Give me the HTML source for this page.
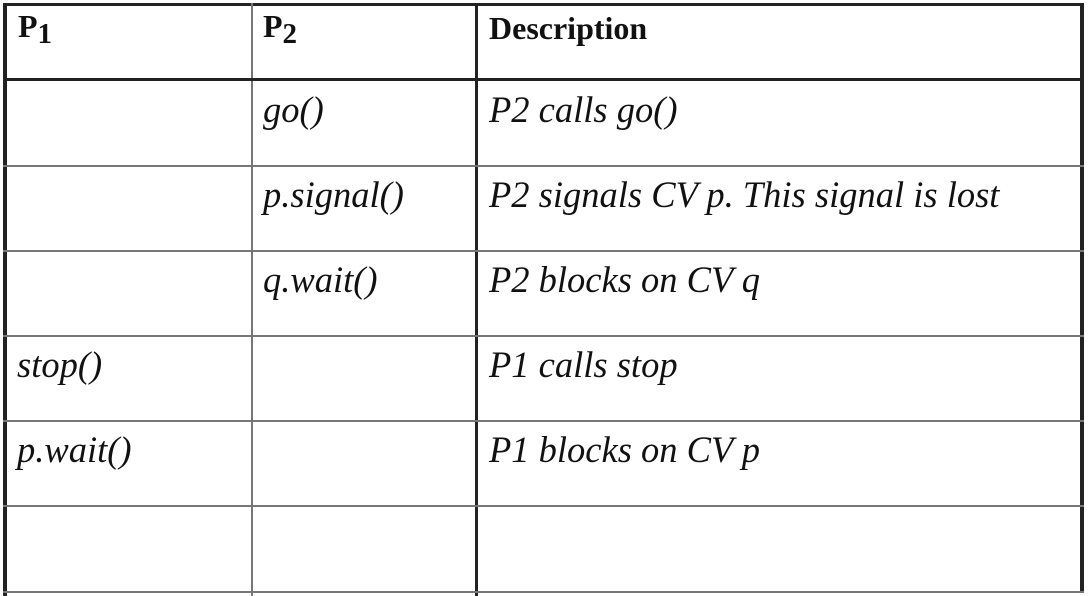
<!DOCTYPE html>
<html><head><meta charset="utf-8"><style>
body{margin:0;width:1088px;height:596px;background:#fff;position:relative;overflow:hidden;font-family:"Liberation Serif",serif;color:#111}
.l{position:absolute;background:#222}
.g{position:absolute;background:#777}
.t{position:absolute;font-style:italic;font-size:36.5px;line-height:1;white-space:nowrap}
.h{position:absolute;font-weight:bold;font-size:32px;line-height:1;white-space:nowrap}
.h sub{font-size:29px;vertical-align:-6px;line-height:0}
</style></head><body>
<div class="l" style="left:3px;top:3px;width:1081px;height:3px"></div>
<div class="l" style="left:3px;top:3px;width:4px;height:593px"></div>
<div class="l" style="left:1080px;top:3px;width:4px;height:590px"></div>
<div class="l" style="left:475px;top:3px;width:3px;height:593px"></div>
<div class="g" style="left:251px;top:3px;width:2px;height:593px"></div>
<div class="l" style="left:3px;top:78px;width:1081px;height:3px"></div>
<div class="g" style="left:3px;top:165px;width:1081px;height:2px"></div>
<div class="g" style="left:3px;top:250px;width:1081px;height:2px"></div>
<div class="g" style="left:3px;top:335px;width:1081px;height:2px"></div>
<div class="g" style="left:3px;top:420px;width:1081px;height:2px"></div>
<div class="g" style="left:3px;top:505px;width:1081px;height:2px"></div>
<div class="g" style="left:3px;top:591px;width:1081px;height:2px"></div>

<div class="h" style="left:18px;top:10px">P<sub>1</sub></div>
<div class="h" style="left:263px;top:10px">P<sub>2</sub></div>
<div class="h" style="left:489px;top:12px">Description</div>

<div class="t" style="left:263px;top:92px">go()</div>
<div class="t" style="left:489px;top:92px">P2 calls go()</div>
<div class="t" style="left:263px;top:177px">p.signal()</div>
<div class="t" style="left:489px;top:177px">P2 signals CV p. This signal is lost</div>
<div class="t" style="left:263px;top:262px">q.wait()</div>
<div class="t" style="left:489px;top:262px">P2 blocks on CV q</div>
<div class="t" style="left:17px;top:347px">stop()</div>
<div class="t" style="left:489px;top:347px">P1 calls stop</div>
<div class="t" style="left:17px;top:432px">p.wait()</div>
<div class="t" style="left:489px;top:432px">P1 blocks on CV p</div>
</body></html>
